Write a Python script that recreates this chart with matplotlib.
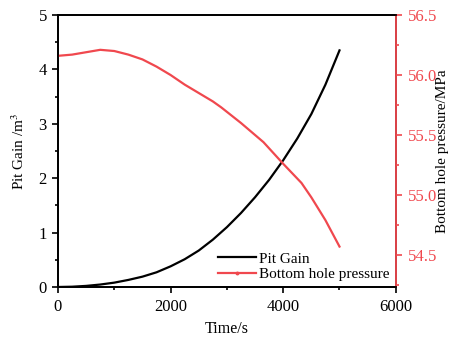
import numpy as np
import matplotlib
matplotlib.use("Agg")
import matplotlib.pyplot as plt
from matplotlib.lines import Line2D
from matplotlib.ticker import MultipleLocator, FormatStrFormatter

plt.rcParams.update({
    "font.family": "serif",
    "font.serif": ["Liberation Serif", "DejaVu Serif"],
    "mathtext.fontset": "stix",
    "font.size": 11,
})

RED = "#f0484e"

t_gain = [0, 250, 500, 750, 1000, 1250, 1500, 1750, 2000, 2250, 2500,
          2750, 3000, 3250, 3500, 3750, 4000, 4250, 4500, 4750, 5000]
pit_gain = [0.0, 0.005, 0.02, 0.045, 0.08, 0.13, 0.19, 0.27, 0.38, 0.51, 0.67,
            0.87, 1.10, 1.36, 1.65, 1.97, 2.33, 2.73, 3.18, 3.72, 4.35]

t_bhp = [0, 250, 500, 750, 1000, 1250, 1500, 1750, 2000, 2250, 2500,
         2750, 2900, 3250, 3650, 4000, 4325, 4500, 4750, 5000]
bhp = [56.16, 56.17, 56.19, 56.21, 56.20, 56.17, 56.13, 56.07, 56.00, 55.92, 55.85,
       55.78, 55.73, 55.60, 55.44, 55.26, 55.10, 54.98, 54.79, 54.57]

fig = plt.figure(figsize=(4.51, 3.37), dpi=100)
ax = fig.add_axes([0.1286, 0.1484, 0.749, 0.807])
ax2 = ax.twinx()

ax.plot(t_gain, pit_gain, color="black", lw=1.6)
ax2.plot(t_bhp, bhp, color=RED, lw=1.6)

ax.set_xlim(0, 6000)
ax.set_ylim(0, 5)
ax2.set_ylim(54.233, 56.5)
ax.xaxis.set_major_locator(MultipleLocator(2000))
ax.xaxis.set_minor_locator(MultipleLocator(1000))
ax.yaxis.set_major_locator(MultipleLocator(1))
ax.yaxis.set_minor_locator(MultipleLocator(0.5))
ax2.yaxis.set_major_locator(MultipleLocator(0.5))
ax2.yaxis.set_minor_locator(MultipleLocator(0.25))
ax2.yaxis.set_major_formatter(FormatStrFormatter("%.1f"))

ax.set_xlabel("Time/s", fontsize=11.5, labelpad=4)
ax.set_ylabel("Pit Gain /m$^3$", fontsize=11, labelpad=8)
ax2.set_ylabel("Bottom hole pressure/MPa", fontsize=11)
ax2.yaxis.set_label_coords(1.12, 0.5)

for a in (ax, ax2):
    a.tick_params(which="both", direction="out", width=1.2)
    a.tick_params(which="major", length=4, labelsize=12, pad=4)
    a.tick_params(which="minor", length=2.5)
    for s in a.spines.values():
        s.set_linewidth(1.3)
ax.tick_params(axis="x", pad=5)
ax.tick_params(axis="y", which="both", right=False)
ax2.spines["right"].set_color(RED)
ax2.tick_params(axis="y", which="both", colors=RED, pad=5)

handles = [Line2D([], [], color="black", lw=1.6),
           Line2D([], [], color=RED, lw=1.6, marker="o", ms=1.8)]
ax.legend(handles, ["Pit Gain", "Bottom hole pressure"], loc="lower right",
          frameon=False, fontsize=11, handlelength=2.5, handletextpad=0.2,
          borderaxespad=0.0, labelspacing=0.1)

fig.savefig("out.png", dpi=100, facecolor="white")
